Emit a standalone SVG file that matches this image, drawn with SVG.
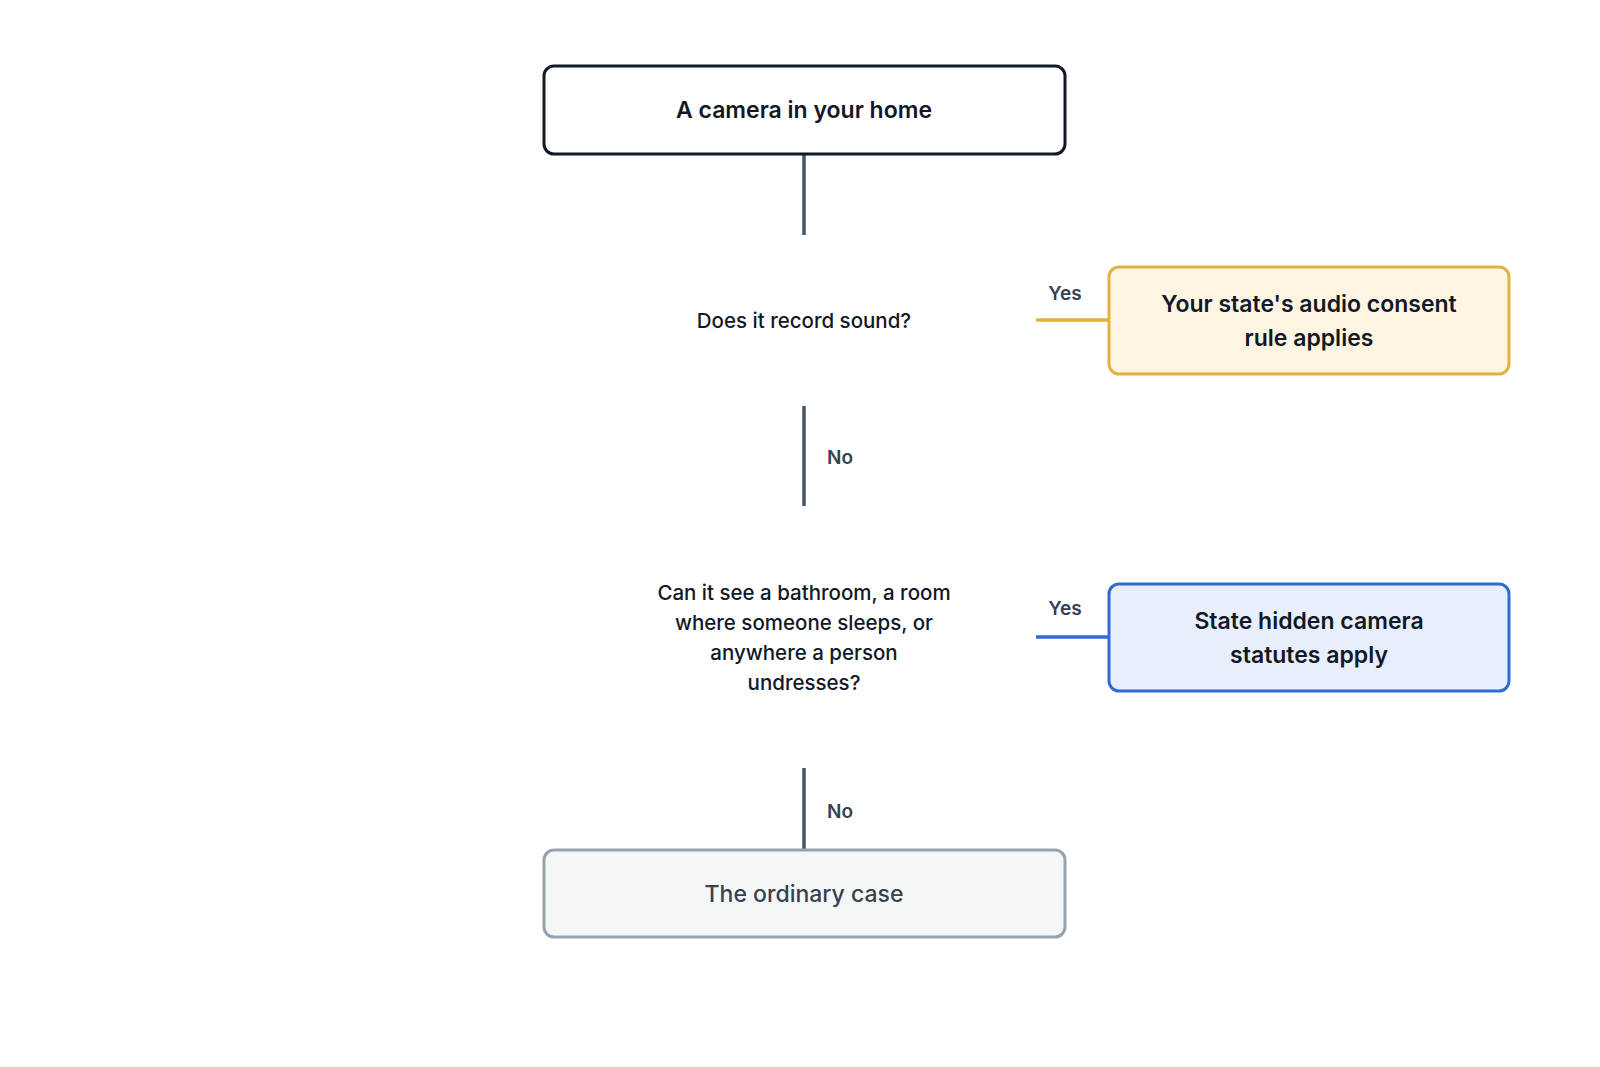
<svg xmlns="http://www.w3.org/2000/svg" width="1600" height="1067" viewBox="0 0 1600 1067">
<style>
text{font-family:Inter,"Liberation Sans",sans-serif;text-anchor:middle}
.t{font-size:23px;font-weight:600;fill:#111827}
.q{font-size:20.5px;font-weight:500;fill:#111827}
.l{font-size:19px;font-weight:600;fill:#374151}
.c{stroke:#475569;stroke-width:3.5;fill:none}
</style>
<rect width="1600" height="1067" fill="#fff"/>
<g id="connectors">
<line class="c" x1="804" y1="154" x2="804" y2="235"/>
<line class="c" x1="804" y1="406" x2="804" y2="506"/>
<text class="l" x="840" y="464">No</text>
<line class="c" x1="804" y1="768" x2="804" y2="849"/>
<text class="l" x="840" y="818">No</text>
<line x1="1036" y1="320" x2="1109" y2="320" stroke="#e2b23f" stroke-width="3.5"/>
<text class="l" x="1065" y="300">Yes</text>
<line x1="1036" y1="637" x2="1109" y2="637" stroke="#2f6bd3" stroke-width="3.5"/>
<text class="l" x="1065" y="615">Yes</text>
</g>
<g id="start">
<rect x="544" y="66" width="521" height="88" rx="10" fill="#fff" stroke="#111827" stroke-width="3"/>
<text class="t" x="804" y="118">A camera in your home</text>
</g>
<g id="q1"><text class="q" x="804" y="328">Does it record sound?</text></g>
<g id="audio">
<rect x="1109" y="267" width="400" height="107" rx="10" fill="#fdf5e2" stroke="#e2b23f" stroke-width="3"/>
<text class="t" x="1309" y="312">Your state's audio consent</text>
<text class="t" x="1309" y="346">rule applies</text>
</g>
<g id="q2">
<text class="q" x="804" y="600">Can it see a bathroom, a room</text>
<text class="q" x="804" y="630">where someone sleeps, or</text>
<text class="q" x="804" y="660">anywhere a person</text>
<text class="q" x="804" y="690">undresses?</text>
</g>
<g id="hidden">
<rect x="1109" y="584" width="400" height="107" rx="10" fill="#e8effb" stroke="#2f6bd3" stroke-width="3"/>
<text class="t" x="1309" y="629">State hidden camera</text>
<text class="t" x="1309" y="663">statutes apply</text>
</g>
<g id="ordinary">
<rect x="544" y="850" width="521" height="87" rx="10" fill="#f5f7f6" stroke="#94a3ae" stroke-width="3"/>
<text class="t" x="804" y="902" style="fill:#374151;font-weight:500">The ordinary case</text>
</g>
</svg>
